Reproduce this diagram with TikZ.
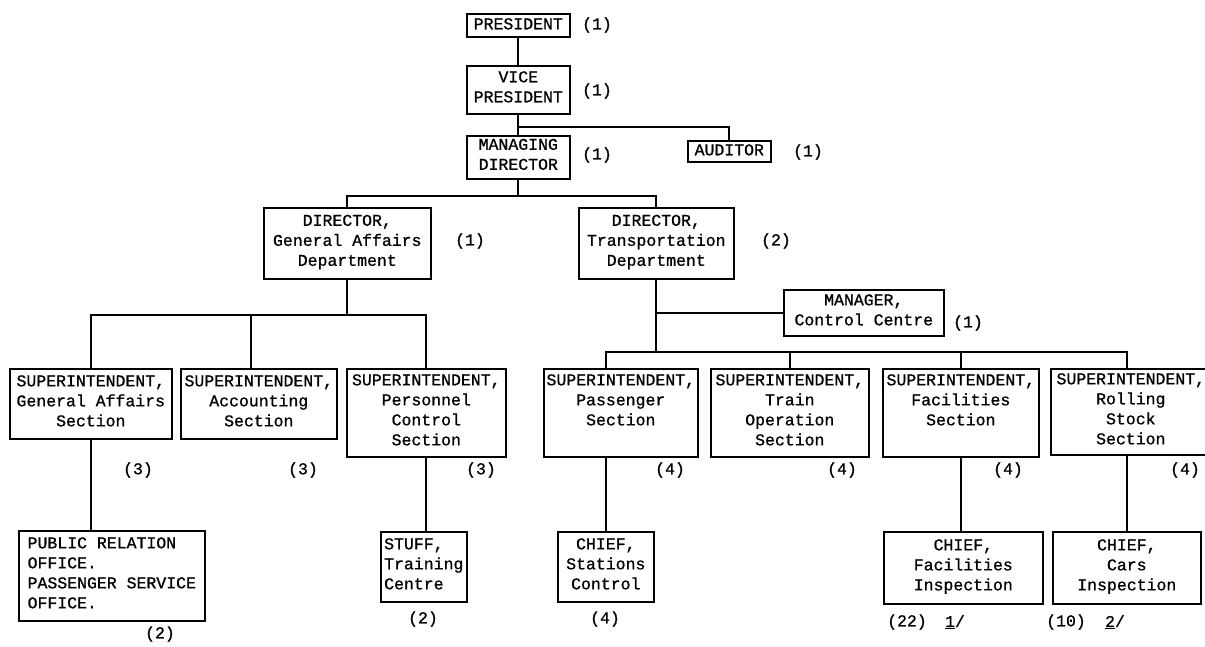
\documentclass[tikz,border=0pt]{standalone}
\usepackage{fontspec}
\newfontfamily\tyface[FakeBold=0.9]{Liberation Mono}
\newcommand\tyfont{\fontsize{16.5}{20}\selectfont\tyface}
\tikzset{
  box/.style={draw, line width=1.6pt, anchor=north west, inner sep=0pt,
    align=center, font=\tyfont,
    execute at begin node=\strut, execute at end node=\strut},
  lbox/.style={box, align=left},
  num/.style={font=\tyfont, inner sep=0pt},
  link/.style={line width=1.9pt}
}
\begin{document}
\begin{tikzpicture}[x=1pt, y=-1pt]
\useasboundingbox (0,0) rectangle (1205,646);
\fill[white] (0,0) rectangle (1205,646);
\clip (0,0) rectangle (1205,646);

% top management
\node[box, minimum width=103pt, minimum height=23pt] (pres) at (466,13) {PRESIDENT};
\node[box, minimum width=103pt, minimum height=48pt] (vp) at (466,65) {VICE\\PRESIDENT};
\node[box, minimum width=103pt, minimum height=43pt] (md) at (466,135) {MANAGING\\DIRECTOR};
\node[box, minimum width=83pt, minimum height=21pt] (aud) at (687,140) {AUDITOR};

% departments
\node[box, minimum width=167pt, minimum height=71pt] (dga) at (263,207) {DIRECTOR,\\General Affairs\\Department};
\node[box, minimum width=155pt, minimum height=71pt] (dtr) at (578,207) {DIRECTOR,\\Transportation\\Department};
\node[box, minimum width=160pt, minimum height=46pt] (mgr) at (783,289) {MANAGER,\\Control Centre};

% sections
\node[box, minimum width=162pt, minimum height=70pt] (sga) at (9,368) {SUPERINTENDENT,\\General Affairs\\Section};
\node[box, minimum width=156pt, minimum height=70pt] (sac) at (180,368) {SUPERINTENDENT,\\Accounting\\Section};
\node[box, minimum width=159pt, minimum height=88pt] (spc) at (346,368) {SUPERINTENDENT,\\Personnel\\Control\\Section};
\node[box, minimum width=154pt, minimum height=88pt] (sps) at (543,368) {SUPERINTENDENT,\\Passenger\\Section\\~};
\node[box, minimum width=158pt, minimum height=88pt] (sto) at (710,368) {SUPERINTENDENT,\\Train\\Operation\\Section};
\node[box, minimum width=156pt, minimum height=88pt] (sfa) at (882,368) {SUPERINTENDENT,\\Facilities\\Section\\~};
\node[box, minimum width=160pt, minimum height=86pt] (srs) at (1050,368) {SUPERINTENDENT,\\Rolling\\Stock\\Section};

% offices and inspection units
\node[lbox, minimum width=186pt, minimum height=90pt] (pr) at (18,530) {PUBLIC RELATION\\OFFICE.\\PASSENGER SERVICE\\OFFICE.};
\node[lbox, minimum width=86pt, minimum height=70pt] (stf) at (380,531) {STUFF,\\Training\\Centre};
\node[box, minimum width=96pt, minimum height=70pt] (csc) at (557,531) {CHIEF,\\Stations\\Control};
\node[box, minimum width=159pt, minimum height=72pt] (cfi) at (883,531) {CHIEF,\\Facilities\\Inspection};
\node[box, minimum width=148pt, minimum height=72pt] (cci) at (1052,531) {CHIEF,\\Cars\\Inspection};

% staff numbers
\node[num] (n1) at (597,25) {(1)};
\node[num] (n2) at (597,91) {(1)};
\node[num] (n3) at (597,155) {(1)};
\node[num] (n4) at (808,152) {(1)};
\node[num] (n5) at (470,241) {(1)};
\node[num] (n6) at (776,241) {(2)};
\node[num] (n7) at (968,323) {(1)};
\node[num] (n8) at (138,470) {(3)};
\node[num] (n9) at (303,470) {(3)};
\node[num] (n10) at (481,470) {(3)};
\node[num] (n11) at (670,470) {(4)};
\node[num] (n12) at (842,470) {(4)};
\node[num] (n13) at (1008,470) {(4)};
\node[num] (n14) at (1185,470) {(4)};
\node[num] (n15) at (160,634) {(2)};
\node[num] (n16) at (423,619) {(2)};
\node[num] (n17) at (605,619) {(4)};
\node[num] (n18) at (907,622) {(22)};
\node[num] (f1) at (955,622) {\underline{1}/};
\node[num] (n19) at (1066,622) {(10)};
\node[num] (f2) at (1115,622) {\underline{2}/};

% reporting lines
\draw[link] (pres.south) -- (vp.north);
\draw[link] (vp.south) -- (md.north);
\draw[link] (vp.south) ++(0,12) -| (aud.north);
\draw[link] (md.south) -- ++(0,16) coordinate (mdj);
\draw[link] (dga.north) |- (mdj) -| (dtr.north);
\draw[link] (dga.south) -- ++(0,35) coordinate (gaj);
\draw[link] (sga.north) |- (gaj) -| (spc.north);
\draw[link] (gaj) -| ([xshift=-8pt]sac.north);
\draw[link] (dtr.south) -- ++(0,72) coordinate (trj);
\draw[link] (dtr.south |- mgr.west) -- (mgr.west);
\draw[link] (csc.north |- sps.north) |- (trj) -| (cci.north |- srs.north);
\draw[link] (trj) -| (sto.north);
\draw[link] (trj) -| (sfa.north);
\draw[link] (sga.south) -- (sga.south |- pr.north);
\draw[link] (spc.south) -- (spc.south |- stf.north);
\draw[link] (csc.north |- sps.south) -- (csc.north);
\draw[link] (sfa.south) -- (sfa.south |- cfi.north);
\draw[link] (cci.north |- srs.south) -- (cci.north);
\end{tikzpicture}
\end{document}
